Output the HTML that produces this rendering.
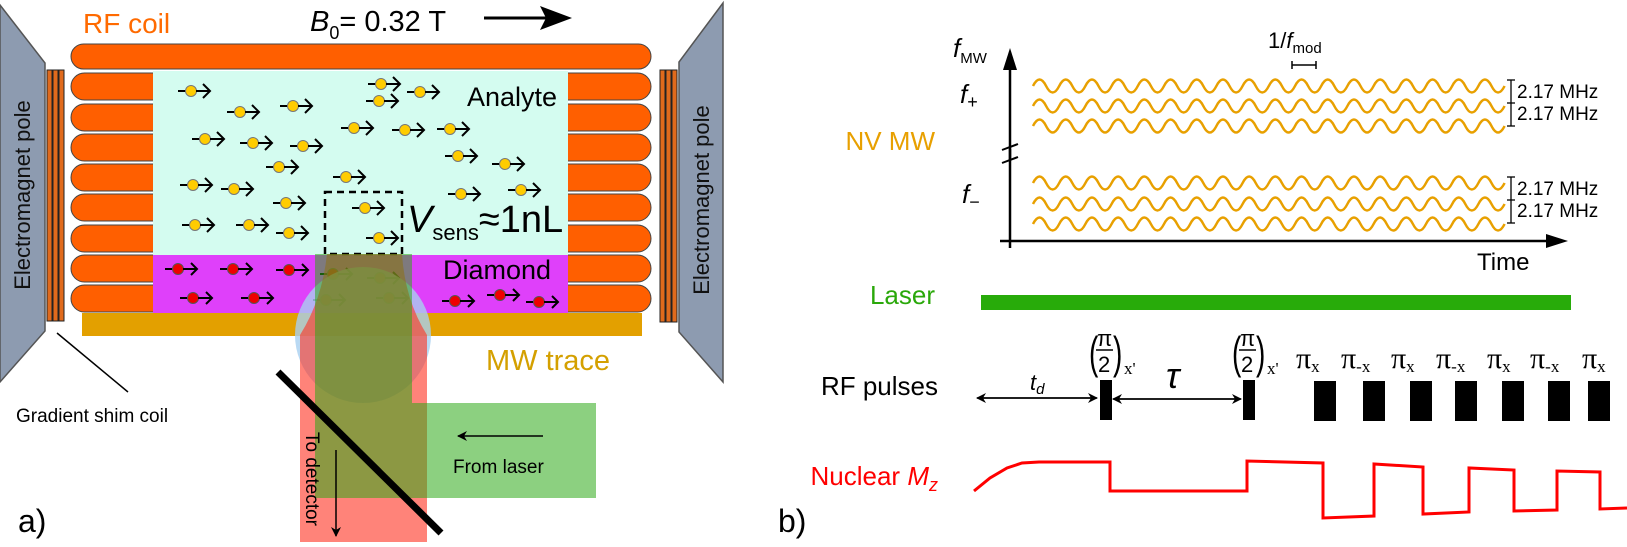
<!DOCTYPE html>
<html><head><meta charset="utf-8"><style>
html,body{margin:0;padding:0;background:#fff;}
svg{display:block;font-family:"Liberation Sans",sans-serif;}
</style></head><body>
<svg width="1627" height="547" viewBox="0 0 1627 547" xmlns="http://www.w3.org/2000/svg">
<defs>
<marker id="ah" markerWidth="10" markerHeight="10" refX="9" refY="5" orient="auto" markerUnits="userSpaceOnUse"><path d="M0,0 L10,5 L0,10 L3,5 z" fill="#000"/></marker>
<g id="ys"><line x1="-13" y1="0" x2="-4" y2="0" stroke="#000" stroke-width="2"/><circle r="5.5" fill="#ffcc00" stroke="#777" stroke-width="1"/><line x1="5" y1="0" x2="19" y2="0" stroke="#000" stroke-width="2"/><polyline points="12,-7 19,0 12,7" fill="none" stroke="#000" stroke-width="2"/></g>
<g id="rs"><line x1="-13" y1="0" x2="-4" y2="0" stroke="#000" stroke-width="2"/><circle r="5.5" fill="#ee0000" stroke="#555" stroke-width="1"/><line x1="5" y1="0" x2="19" y2="0" stroke="#000" stroke-width="2"/><polyline points="13,-6 19,0 13,6" fill="none" stroke="#000" stroke-width="2"/></g>
<path id="w1" fill="none" stroke="#e8a000" stroke-width="2.5" d="M1033,86 q6.55,-13 13.1,0 t13.1,0 t13.1,0 t13.1,0 t13.1,0 t13.1,0 t13.1,0 t13.1,0 t13.1,0 t13.1,0 t13.1,0 t13.1,0 t13.1,0 t13.1,0 t13.1,0 t13.1,0 t13.1,0 t13.1,0 t13.1,0 t13.1,0 t13.1,0 t13.1,0 t13.1,0 t13.1,0 t13.1,0 t13.1,0 t13.1,0 t13.1,0 t13.1,0 t13.1,0 t13.1,0 t13.1,0 t13.1,0 t13.1,0 t13.1,0 t13.1,0"/>
</defs>

<!-- Panel a -->
<polygon points="0,5 45,63 45,331 0,382" fill="#8d9bb0" stroke="#555" stroke-width="1.5"/>
<polygon points="723,3 679,62 679,332 723,382" fill="#8d9bb0" stroke="#555" stroke-width="1.5"/>
<text transform="translate(30,195) rotate(-90)" text-anchor="middle" font-size="22" fill="#111">Electromagnet pole</text>
<text transform="translate(709,200) rotate(-90)" text-anchor="middle" font-size="22" fill="#111">Electromagnet pole</text>
<g fill="#e06a1c" stroke="#222" stroke-width="1">
<rect x="47" y="70" width="5" height="251"/><rect x="53" y="70" width="5" height="251"/><rect x="59" y="70" width="5" height="251"/>
<rect x="660" y="70" width="5" height="252"/><rect x="666" y="70" width="5" height="252"/><rect x="672" y="70" width="5" height="252"/>
</g>
<text x="83" y="33" font-size="28" fill="#ff6a00">RF coil</text>
<text x="310" y="31" font-size="29" fill="#000"><tspan font-style="italic">B</tspan><tspan font-size="18" dy="8">0</tspan><tspan dy="-8">= 0.32 T</tspan></text>
<line x1="484" y1="18" x2="550" y2="18" stroke="#000" stroke-width="3"/>
<polygon points="572,18 540,6 546,18 540,30" fill="#000"/>
<rect x="71" y="44" width="580" height="25" rx="12.5" fill="#ff5f00" stroke="#444" stroke-width="1"/>
<g fill="#ff5f00" stroke="#444" stroke-width="1">
<rect x="71" y="73" width="580" height="27" rx="13.5"/>
<rect x="71" y="104" width="580" height="27" rx="13.5"/>
<rect x="71" y="134" width="580" height="27" rx="13.5"/>
<rect x="71" y="164" width="580" height="27" rx="13.5"/>
<rect x="71" y="194" width="580" height="27" rx="13.5"/>
<rect x="71" y="225" width="580" height="27" rx="13.5"/>
<rect x="71" y="255" width="580" height="27" rx="13.5"/>
<rect x="71" y="285" width="580" height="27" rx="13.5"/>
</g>
<rect x="82" y="313" width="560" height="23" fill="#e3a000"/>
<rect x="153" y="71" width="415" height="184" fill="#d4fcf0"/>
<rect x="153" y="255" width="415" height="58" fill="#df40fa"/>
<text x="467" y="106" font-size="27" fill="#000">Analyte</text>
<text x="443" y="279" font-size="27" fill="#000">Diamond</text>
<g>
<use href="#ys" x="191" y="91"/><use href="#ys" x="240" y="112"/><use href="#ys" x="293" y="106"/><use href="#ys" x="381" y="84"/><use href="#ys" x="379" y="101"/><use href="#ys" x="420" y="92"/>
<use href="#ys" x="205" y="139"/><use href="#ys" x="253" y="143"/><use href="#ys" x="303" y="146"/><use href="#ys" x="354" y="128"/><use href="#ys" x="405" y="130"/><use href="#ys" x="450" y="129"/>
<use href="#ys" x="279" y="167"/><use href="#ys" x="458" y="156"/><use href="#ys" x="505" y="164"/><use href="#ys" x="193" y="185"/><use href="#ys" x="234" y="189"/><use href="#ys" x="346" y="177"/>
<use href="#ys" x="286" y="203"/><use href="#ys" x="461" y="194"/><use href="#ys" x="521" y="190"/><use href="#ys" x="195" y="225"/><use href="#ys" x="249" y="225"/><use href="#ys" x="289" y="233"/>
<use href="#ys" x="365" y="208"/><use href="#ys" x="379" y="238"/>
<use href="#rs" x="178" y="269"/><use href="#rs" x="233" y="269"/><use href="#rs" x="289" y="270"/><use href="#rs" x="193" y="298"/><use href="#rs" x="254" y="298"/>
<use href="#rs" x="455" y="301"/><use href="#rs" x="500" y="295"/><use href="#rs" x="539" y="302"/>
<use href="#rs" x="333" y="274"/><use href="#rs" x="380" y="278"/><use href="#rs" x="326" y="300"/><use href="#rs" x="389" y="298"/>
</g>
<rect x="325" y="192" width="77" height="62" fill="none" stroke="#000" stroke-width="2.5" stroke-dasharray="7,5"/>
<text x="407" y="232" font-size="38" fill="#000"><tspan font-style="italic">V</tspan><tspan font-size="22" dy="8">sens</tspan><tspan dy="-8">≈1nL</tspan></text>
<!-- beams -->
<circle cx="363" cy="335" r="68" fill="#a8d0f0" opacity="0.8"/>
<path d="M327,254 L402,254 Q405,300 427,335 L427,542 L300,542 L300,335 Q322,300 327,254 Z" fill="#ff3020" opacity="0.6"/>
<path d="M315,254 L412,254 L412,403 L596,403 L596,498 L315,498 Z" fill="#2eaa18" opacity="0.55"/>
<line x1="278" y1="372" x2="441" y2="533" stroke="#000" stroke-width="7"/>
<text x="486" y="370" font-size="29" fill="#d4a000">MW trace</text>
<text transform="translate(306,432) rotate(90)" font-size="19" fill="#000">To detector</text>
<line x1="336" y1="450" x2="336" y2="536" stroke="#000" stroke-width="1.5" marker-end="url(#ah)"/>
<line x1="543" y1="436" x2="458" y2="436" stroke="#000" stroke-width="1.5" marker-end="url(#ah)"/>
<text x="453" y="473" font-size="19" fill="#000">From laser</text>
<line x1="57" y1="333" x2="128" y2="392" stroke="#000" stroke-width="1.5"/>
<text x="16" y="422" font-size="19" fill="#000">Gradient shim coil</text>
<text x="18" y="532" font-size="32" fill="#000">a)</text>

<!-- Panel b -->
<text x="935" y="150" text-anchor="end" font-size="26" fill="#e8a000">NV MW</text>
<text x="953" y="57" font-size="26" font-style="italic" fill="#000">f<tspan font-size="15" font-style="normal" dy="6">MW</tspan></text>
<text x="960" y="103" font-size="26" font-style="italic" fill="#000">f<tspan font-size="18" font-style="normal" dy="5">+</tspan></text>
<text x="962" y="203" font-size="26" font-style="italic" fill="#000">f<tspan font-size="18" font-style="normal" dy="5">−</tspan></text>
<line x1="1010" y1="248" x2="1010" y2="149" stroke="#000" stroke-width="2.5"/>
<line x1="1010" y1="160" x2="1010" y2="62" stroke="#000" stroke-width="2.5"/>
<polygon points="1010,48 1003,70 1017,70" fill="#000"/>
<line x1="1002" y1="150" x2="1018" y2="144" stroke="#000" stroke-width="2"/>
<line x1="1002" y1="163" x2="1018" y2="157" stroke="#000" stroke-width="2"/>
<line x1="1000" y1="241" x2="1555" y2="241" stroke="#000" stroke-width="2.5"/>
<polygon points="1568,241 1546,234 1546,248" fill="#000"/>
<text x="1477" y="270" font-size="24" fill="#000">Time</text>
<text x="1268" y="48" font-size="22" fill="#000">1/<tspan font-style="italic">f</tspan><tspan font-size="15" dy="5">mod</tspan></text>
<line x1="1292" y1="65" x2="1316" y2="65" stroke="#000" stroke-width="1.5"/>
<line x1="1292" y1="61" x2="1292" y2="69" stroke="#000" stroke-width="1.5"/>
<line x1="1316" y1="61" x2="1316" y2="69" stroke="#000" stroke-width="1.5"/>
<use href="#w1" y="0"/>
<use href="#w1" y="20"/>
<use href="#w1" y="40"/>
<use href="#w1" y="97"/>
<use href="#w1" y="118"/>
<use href="#w1" y="138"/>
<g stroke="#000" stroke-width="1.3">
<line x1="1511" y1="80" x2="1511" y2="126"/><line x1="1507" y1="80" x2="1515" y2="80"/><line x1="1507" y1="103" x2="1515" y2="103"/><line x1="1507" y1="126" x2="1515" y2="126"/>
<line x1="1511" y1="177" x2="1511" y2="223"/><line x1="1507" y1="177" x2="1515" y2="177"/><line x1="1507" y1="200" x2="1515" y2="200"/><line x1="1507" y1="223" x2="1515" y2="223"/>
</g>
<g font-size="19" fill="#000">
<text x="1517" y="98">2.17 MHz</text><text x="1517" y="120">2.17 MHz</text>
<text x="1517" y="195">2.17 MHz</text><text x="1517" y="217">2.17 MHz</text>
</g>
<text x="935" y="304" text-anchor="end" font-size="26" fill="#2aa80a">Laser</text>
<rect x="981" y="295" width="590" height="15" fill="#28ab0a"/>
<text x="938" y="395" text-anchor="end" font-size="26" fill="#000">RF pulses</text>
<text x="938" y="485" text-anchor="end" font-size="26" fill="#ff0000">Nuclear <tspan font-style="italic">M</tspan><tspan font-style="italic" font-size="18" dy="6">z</tspan></text>
<line x1="978" y1="398" x2="1097" y2="398" stroke="#000" stroke-width="1.5" marker-end="url(#ah)"/>
<line x1="1096" y1="398" x2="977" y2="398" stroke="#000" stroke-width="1.5" marker-end="url(#ah)"/>
<line x1="1114" y1="399" x2="1241" y2="399" stroke="#000" stroke-width="1.5" marker-end="url(#ah)"/>
<line x1="1240" y1="399" x2="1113" y2="399" stroke="#000" stroke-width="1.5" marker-end="url(#ah)"/>
<text x="1030" y="390" font-size="22" font-style="italic" fill="#000">t<tspan font-size="15" dy="4">d</tspan></text>
<text x="1166" y="388" font-size="36" font-style="italic" fill="#000">τ</text>
<g fill="#000">
<rect x="1100" y="380" width="12" height="40"/><rect x="1243" y="380" width="12" height="40"/>
<rect x="1314" y="381" width="22" height="40"/><rect x="1363" y="381" width="22" height="40"/><rect x="1410" y="381" width="22" height="40"/><rect x="1455" y="381" width="22" height="40"/><rect x="1502" y="381" width="22" height="40"/><rect x="1548" y="381" width="22" height="40"/><rect x="1588" y="381" width="22" height="40"/>
</g>
<g fill="#000">
<text transform="translate(1089,368) scale(1,1.6)" font-size="28">(</text>
<text x="1097" y="346" font-size="22">π</text>
<line x1="1096" y1="350" x2="1113" y2="350" stroke="#000" stroke-width="1.5"/>
<text x="1098" y="372" font-size="22">2</text>
<text transform="translate(1113,368) scale(1,1.6)" font-size="28">)</text>
<text x="1124" y="374" font-size="17" font-family="Liberation Serif,serif">x'</text>
<text transform="translate(1232,368) scale(1,1.6)" font-size="28">(</text>
<text x="1240" y="346" font-size="22">π</text>
<line x1="1239" y1="350" x2="1256" y2="350" stroke="#000" stroke-width="1.5"/>
<text x="1241" y="372" font-size="22">2</text>
<text transform="translate(1256,368) scale(1,1.6)" font-size="28">)</text>
<text x="1267" y="374" font-size="17" font-family="Liberation Serif,serif">x'</text>
</g>
<g font-family="Liberation Serif,serif" fill="#000" font-size="30">
<text x="1296" y="368">π<tspan font-size="17" dy="4">x</tspan></text>
<text x="1341" y="368">π<tspan font-size="17" dy="4">-x</tspan></text>
<text x="1391" y="368">π<tspan font-size="17" dy="4">x</tspan></text>
<text x="1436" y="368">π<tspan font-size="17" dy="4">-x</tspan></text>
<text x="1487" y="368">π<tspan font-size="17" dy="4">x</tspan></text>
<text x="1530" y="368">π<tspan font-size="17" dy="4">-x</tspan></text>
<text x="1582" y="368">π<tspan font-size="17" dy="4">x</tspan></text>
</g>
<polyline fill="none" stroke="#ff0000" stroke-width="3" points="974,491 990,478 1007,468 1022,463 1039,462 1110,462 1110,491 1247,491 1247,461 1323,463 1323,518 1374,516 1374,464 1423,467 1423,514 1469,512 1469,468 1514,470 1514,511 1557,510 1557,471 1600,472 1600,509 1627,508"/>
<text x="778" y="532" font-size="32" fill="#000">b)</text>
</svg>
</body></html>
